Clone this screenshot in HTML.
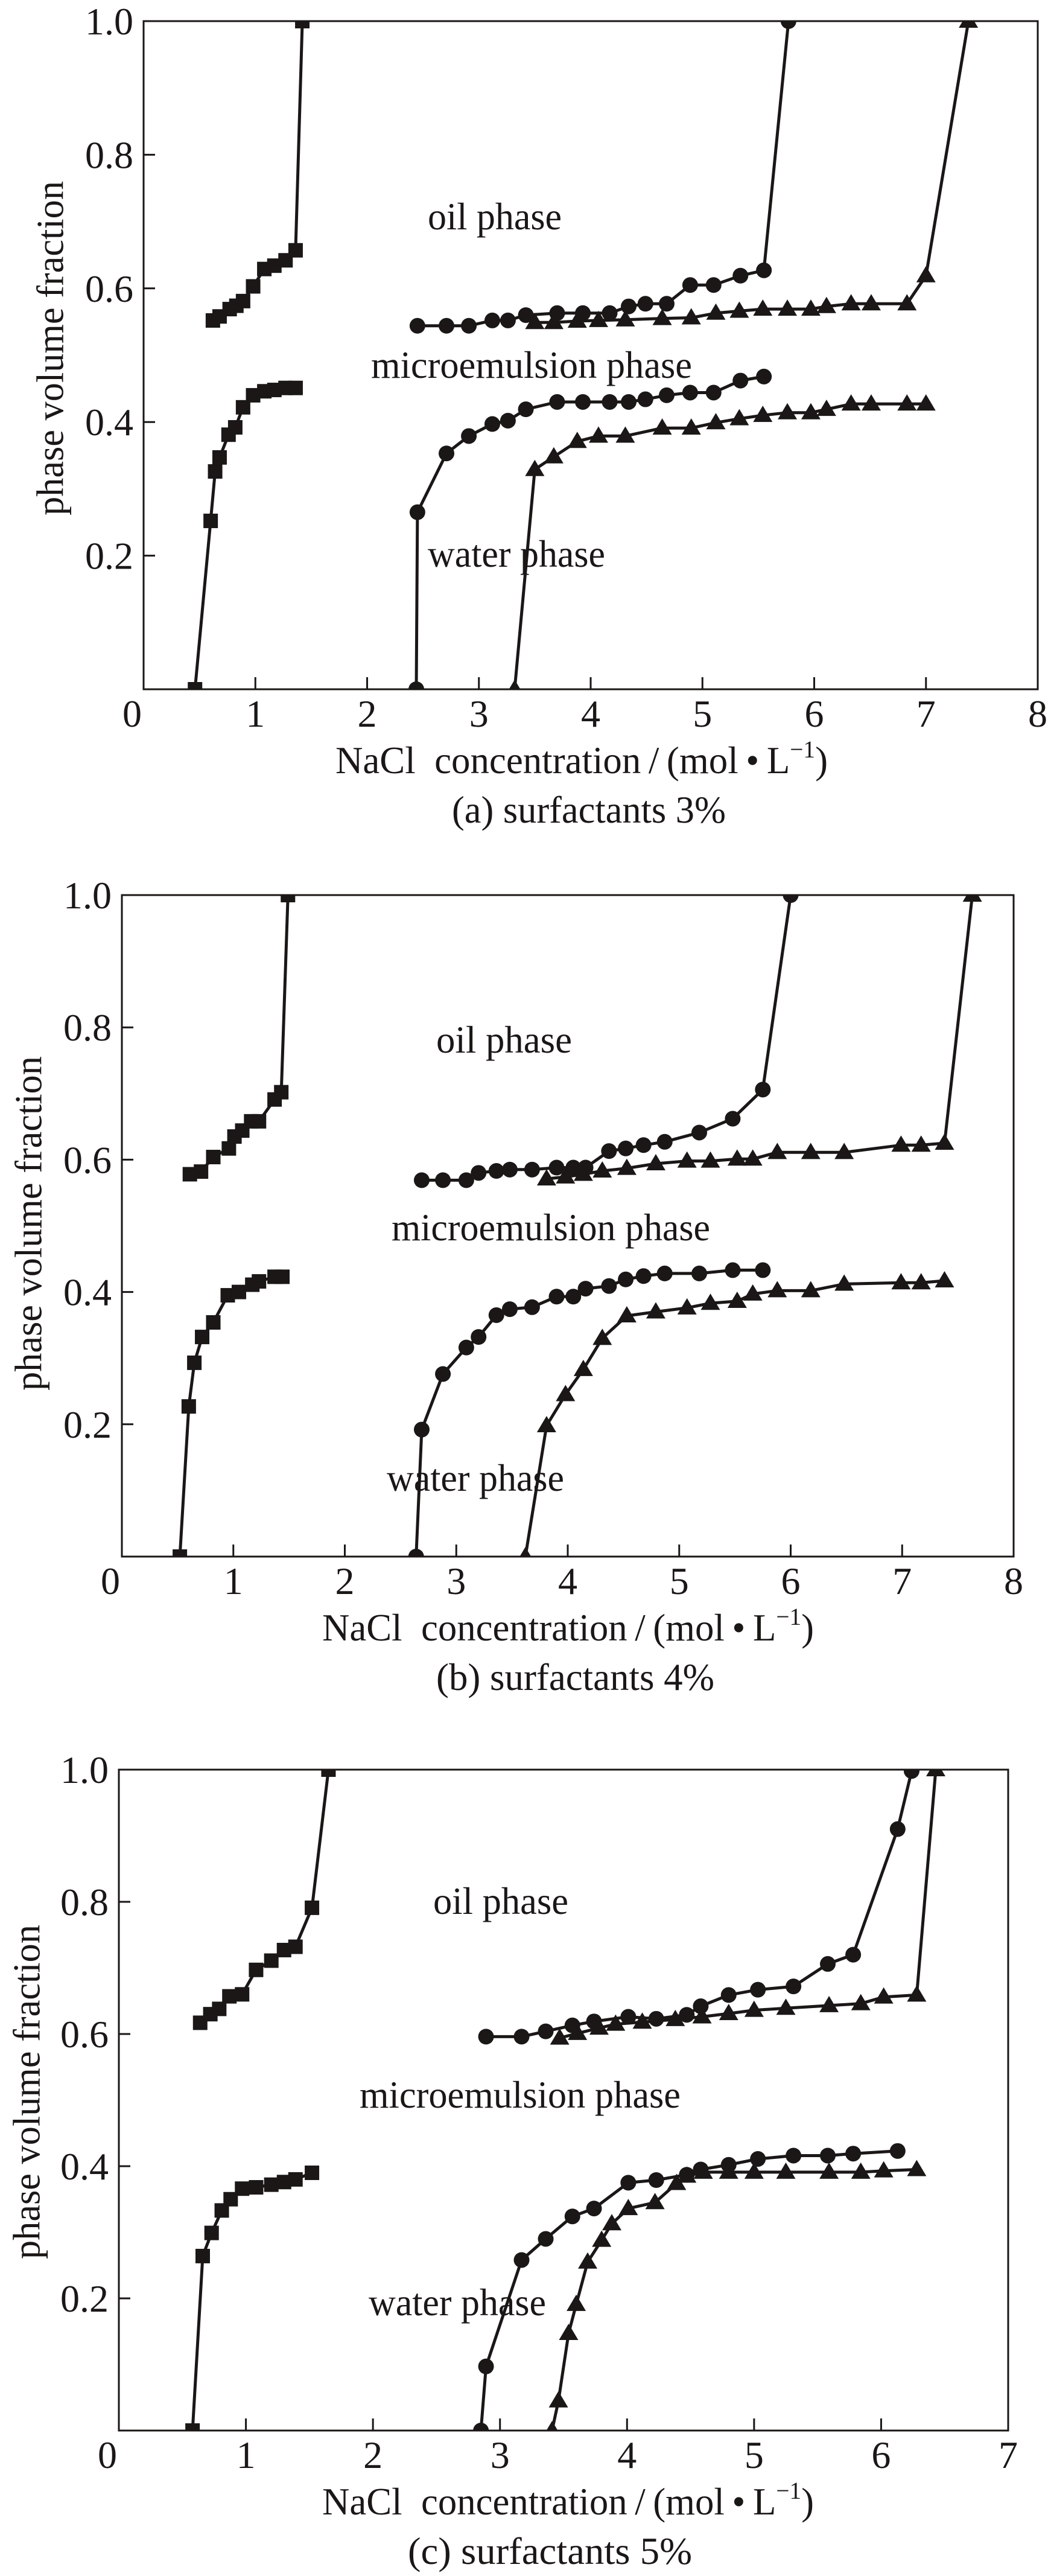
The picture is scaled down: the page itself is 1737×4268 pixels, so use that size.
<!DOCTYPE html>
<html><head><meta charset="utf-8"><title>Phase volume fraction vs NaCl concentration</title>
<style>
html,body{margin:0;padding:0;background:#fff;}
svg{display:block;}
text{font-family:"Liberation Serif","Times New Roman",serif;fill:#1a1716;}
</style></head>
<body>
<svg id="fig" xmlns="http://www.w3.org/2000/svg" width="1737" height="4268" viewBox="0 0 1737 4268"></svg>
<script>
// ---------- Chart (a) surfactants 3% ----------
const aSqTopX = [0.62,0.68,0.77,0.83,0.89,0.98,1.08,1.17,1.27,1.36,1.42];
const aSqTopY = [0.552,0.558,0.569,0.574,0.581,0.603,0.629,0.634,0.642,0.657,1.0];
const aSqLowX = [0.46,0.60,0.64,0.68,0.76,0.82,0.89,0.98,1.08,1.17,1.27,1.36];
const aSqLowY = [0,0.252,0.326,0.347,0.381,0.392,0.422,0.44,0.446,0.448,0.451,0.451];
const aCiTopX = [2.45,2.71,2.91,3.12,3.26,3.42,3.70,3.93,4.17,4.34,4.49,4.68,4.89,5.10,5.34,5.55,5.77];
const aCiTopY = [0.544,0.544,0.544,0.552,0.552,0.560,0.563,0.563,0.563,0.573,0.577,0.577,0.605,0.605,0.619,0.627,1.0];
const aCiLowX = [2.44,2.45,2.71,2.91,3.12,3.26,3.42,3.70,3.93,4.17,4.34,4.49,4.68,4.89,5.10,5.34,5.55];
const aCiLowY = [0,0.265,0.353,0.379,0.397,0.402,0.419,0.43,0.43,0.43,0.43,0.434,0.440,0.444,0.444,0.462,0.468];
const aTrTopX = [3.50,3.67,3.88,4.07,4.31,4.64,4.90,5.12,5.33,5.54,5.76,5.97,6.11,6.33,6.51,6.83,7.00,7.38];
const aTrTopY = [0.549,0.549,0.551,0.552,0.553,0.555,0.556,0.563,0.566,0.569,0.569,0.569,0.573,0.577,0.577,0.577,0.619,1.0];
const aTrLowX = [3.32,3.50,3.67,3.88,4.07,4.31,4.64,4.90,5.12,5.33,5.54,5.76,5.97,6.11,6.33,6.51,6.83,7.00];
const aTrLowY = [0,0.329,0.348,0.371,0.379,0.379,0.391,0.391,0.399,0.405,0.410,0.414,0.414,0.419,0.427,0.427,0.427,0.427];
// ---------- Chart (b) surfactants 4% ----------
const bSqTopX = [0.61,0.71,0.82,0.96,1.01,1.08,1.16,1.23,1.37,1.43,1.49];
const bSqTopY = [0.578,0.582,0.604,0.617,0.635,0.644,0.658,0.658,0.691,0.702,1.0];
const bSqLowX = [0.52,0.60,0.65,0.72,0.82,0.95,1.05,1.17,1.23,1.37,1.44];
const bSqLowY = [0,0.227,0.293,0.332,0.354,0.395,0.400,0.411,0.416,0.423,0.423];
const bCiTopX = [2.69,2.88,3.09,3.20,3.36,3.48,3.68,3.90,4.05,4.16,4.37,4.52,4.68,4.87,5.18,5.48,5.75,6.00];
const bCiTopY = [0.569,0.569,0.569,0.580,0.583,0.585,0.585,0.588,0.588,0.588,0.613,0.617,0.622,0.627,0.641,0.662,0.706,1.0];
const bCiLowX = [2.64,2.69,2.88,3.09,3.20,3.36,3.48,3.68,3.90,4.05,4.16,4.37,4.52,4.68,4.87,5.18,5.48,5.75];
const bCiLowY = [0,0.192,0.276,0.316,0.332,0.365,0.374,0.377,0.393,0.393,0.405,0.409,0.419,0.424,0.428,0.428,0.433,0.433];
const bTrTopX = [3.81,3.98,4.14,4.31,4.53,4.79,5.07,5.28,5.52,5.66,5.88,6.18,6.48,6.99,7.17,7.38,7.63];
const bTrTopY = [0.571,0.574,0.578,0.583,0.587,0.594,0.598,0.598,0.601,0.601,0.611,0.611,0.611,0.622,0.622,0.625,1.0];
const bTrLowX = [3.62,3.81,3.98,4.14,4.31,4.53,4.79,5.07,5.28,5.52,5.66,5.88,6.18,6.48,6.99,7.17,7.38];
const bTrLowY = [0,0.198,0.245,0.283,0.330,0.364,0.370,0.376,0.383,0.386,0.397,0.402,0.402,0.412,0.414,0.414,0.417];
// ---------- Chart (c) surfactants 5% ----------
const cSqTopX = [0.64,0.72,0.79,0.87,0.97,1.08,1.20,1.30,1.39,1.52,1.65];
const cSqTopY = [0.617,0.630,0.638,0.657,0.660,0.697,0.711,0.727,0.732,0.791,1.0];
const cSqLowX = [0.58,0.66,0.73,0.81,0.88,0.97,1.08,1.20,1.30,1.39,1.52];
const cSqLowY = [0,0.264,0.299,0.333,0.350,0.366,0.368,0.372,0.376,0.380,0.390];
const cCiTopX = [2.89,3.17,3.36,3.57,3.74,4.01,4.23,4.47,4.58,4.80,5.03,5.31,5.58,5.78,6.13,6.24];
const cCiTopY = [0.596,0.596,0.604,0.613,0.619,0.626,0.623,0.629,0.642,0.659,0.667,0.672,0.706,0.720,0.910,0.998];
const cCiLowX = [2.85,2.89,3.17,3.36,3.57,3.74,4.01,4.23,4.47,4.58,4.80,5.03,5.31,5.58,5.78,6.13];
const cCiLowY = [0,0.097,0.258,0.290,0.324,0.336,0.375,0.379,0.387,0.395,0.402,0.411,0.416,0.416,0.419,0.423];
const cTrTopX = [3.47,3.61,3.78,3.91,4.12,4.38,4.59,4.80,5.00,5.25,5.59,5.84,6.02,6.28,6.43];
const cTrTopY = [0.594,0.601,0.609,0.615,0.618,0.622,0.626,0.631,0.636,0.639,0.643,0.646,0.656,0.659,1.0];
const cTrLowX = [3.41,3.46,3.54,3.60,3.69,3.80,3.88,4.01,4.22,4.39,4.47,4.60,4.80,5.00,5.25,5.59,5.84,6.02,6.28];
const cTrLowY = [0,0.045,0.147,0.191,0.255,0.288,0.313,0.336,0.345,0.374,0.385,0.391,0.391,0.391,0.391,0.391,0.391,0.393,0.395];

const yTickValues = [0.2,0.4,0.6,0.8,1.0];
const yTickLabels = ["0.2","0.4","0.6","0.8","1.0"];
const xTicksA = [0,1,2,3,4,5,6,7,8];
const xTicksC = [0,1,2,3,4,5,6,7];

const NS = "http://www.w3.org/2000/svg";
const svg = document.getElementById('fig');
function mk(tag, attrs, parent){
  const e = document.createElementNS(NS, tag);
  for (const k in attrs) e.setAttribute(k, attrs[k]);
  (parent||svg).appendChild(e);
  return e;
}

const charts = [
  {id:'a', L:238, R:1720, T:35, B:1142, xmax:8, xticks:xTicksA,
   series:[['square',aSqTopX,aSqTopY],['square',aSqLowX,aSqLowY],['circle',aCiTopX,aCiTopY],['circle',aCiLowX,aCiLowY],['triangle',aTrTopX,aTrTopY],['triangle',aTrLowX,aTrLowY]],
   oil:[709,380,222], micro:[615,626,532], water:[709,939,294], ylab:[83,577],
   xt:[556,1281,816], cap:[749,1363,454,"(a) surfactants 3%"]},
  {id:'b', L:202, R:1680, T:1483, B:2579, xmax:8, xticks:xTicksA,
   series:[['square',bSqTopX,bSqTopY],['square',bSqLowX,bSqLowY],['circle',bCiTopX,bCiTopY],['circle',bCiLowX,bCiLowY],['triangle',bTrTopX,bTrTopY],['triangle',bTrLowX,bTrLowY]],
   oil:[723,1744,225], micro:[649,2055,528], water:[641,2470,294], ylab:[47,2027],
   xt:[534,2718,815], cap:[723,2800,461,"(b) surfactants 4%"]},
  {id:'c', L:197, R:1671, T:2932, B:4027, xmax:7, xticks:xTicksC,
   series:[['square',cSqTopX,cSqTopY],['square',cSqLowX,cSqLowY],['circle',cCiTopX,cCiTopY],['circle',cCiLowX,cCiLowY],['triangle',cTrTopX,cTrTopY],['triangle',cTrLowX,cTrLowY]],
   oil:[718,3171,224], micro:[596,3492,532], water:[611,3836,294], ylab:[44,3466],
   xt:[534,4166,815], cap:[676,4248,471,"(c) surfactants 5%"]}
];

charts.forEach(function(c){
  const g = mk('g', {});
  
  
  const xs = v => c.L + v/c.xmax*(c.R-c.L);
  const ys = v => c.B - v*(c.B-c.T);
  const clipId = 'clip-' + c.id;
  const defs = mk('defs', {}, g);
  const cp = mk('clipPath', {id:clipId}, defs);
  mk('rect', {x:c.L, y:c.T, width:c.R-c.L, height:c.B-c.T}, cp);

  // ticks
  c.xticks.forEach(function(t, i){
    if (t > 0 && t < c.xmax){
      const tk = mk('line', {x1:xs(t), x2:xs(t), y1:c.B, y2:c.B-20, stroke:'#1a1716','stroke-width':3}, g);
      
      
    }
    const lx = t === 0 ? xs(0) - 19 : xs(t);
    const tl = mk('text', {x:lx, y:c.B+62, 'font-size':64, 'text-anchor':'middle'}, g);
    tl.textContent = String(t);
    
    
  });
  yTickValues.forEach(function(v, i){
    if (v < 1){
      const tk = mk('line', {x1:c.L, x2:c.L+19, y1:ys(v), y2:ys(v), stroke:'#1a1716','stroke-width':3}, g);
      
      
    }
    const tl = mk('text', {x:c.L-17, y:ys(v)+22, 'font-size':64, 'text-anchor':'end'}, g);
    tl.textContent = yTickLabels[i];
    
    
  });

  // series
  const sg = mk('g', {'clip-path':'url(#'+clipId+')'}, g);
  c.series.forEach(function(s){
    const kind = s[0], X = s[1], Y = s[2];
    const pts = X.map((x,i)=> xs(x).toFixed(1)+','+ys(Y[i]).toFixed(1)).join(' ');
    const pl = mk('polyline', {points:pts, fill:'none', stroke:'#1a1716', 'stroke-width':5, 'stroke-linejoin':'round'}, sg);
    
    
    X.forEach(function(x, i){
      const px = xs(x), py = ys(Y[i]);
      let m;
      if (kind === 'square') m = mk('rect', {x:px-12, y:py-12, width:24, height:24, fill:'#1a1716'}, sg);
      else if (kind === 'circle') m = mk('circle', {cx:px, cy:py, r:13, fill:'#1a1716'}, sg);
      else m = mk('polygon', {points:(px-16)+','+(py+11)+' '+(px+16)+','+(py+11)+' '+px+','+(py-16), fill:'#1a1716'}, sg);
      
      
    });
  });

  // frame
  const fr = mk('rect', {x:c.L, y:c.T, width:c.R-c.L, height:c.B-c.T, fill:'none', stroke:'#1a1716', 'stroke-width':3}, g);
  
  

  // region labels
  [['oil phase', c.oil, 'oil-phase-label'], ['microemulsion phase', c.micro, 'microemulsion-phase-label'], ['water phase', c.water, 'water-phase-label']].forEach(function(l){
    const t = mk('text', {x:l[1][0], y:l[1][1], 'font-size':64, textLength:l[1][2], lengthAdjust:'spacingAndGlyphs'}, g);
    t.textContent = l[0];
    
    
  });

  // y-axis title
  const yl = mk('text', {x:0, y:0, 'font-size':64, 'text-anchor':'middle', 'dominant-baseline':'central', textLength:554, lengthAdjust:'spacingAndGlyphs', transform:'translate('+c.ylab[0]+','+c.ylab[1]+') rotate(-90)'}, g);
  yl.textContent = 'phase volume fraction';
  
  

  // x-axis title
  const xt = mk('text', {x:c.xt[0], y:c.xt[1], 'font-size':64, textLength:c.xt[2], lengthAdjust:'spacingAndGlyphs'}, g);
  xt.innerHTML = 'NaCl\u00a0\u00a0concentration\u2009/\u2009(mol\u2009\u2022\u2009L<tspan font-size="40" dy="-26">\u22121</tspan><tspan dy="26">)</tspan>';
  
  

  // caption
  const cap = mk('text', {x:c.cap[0], y:c.cap[1], 'font-size':64, textLength:c.cap[2], lengthAdjust:'spacingAndGlyphs'}, g);
  cap.textContent = c.cap[3];
  
  
});
</script>
</body></html>
